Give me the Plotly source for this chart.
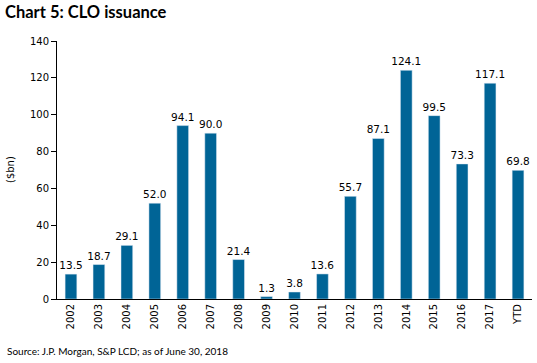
import plotly.graph_objects as go

categories = ["2002", "2003", "2004", "2005", "2006", "2007", "2008", "2009", "2010",
              "2011", "2012", "2013", "2014", "2015", "2016", "2017", "YTD"]
values = [13.5, 18.7, 29.1, 52.0, 94.1, 90.0, 21.4, 1.3, 3.8,
          13.6, 55.7, 87.1, 124.1, 99.5, 73.3, 117.1, 69.8]
y_ticks = [0, 20, 40, 60, 80, 100, 120, 140]

W, H = 537, 363
L, R, T, B = 57, 5, 41, 64
PW, PH = W - L - R, H - T - B

fig = go.Figure(go.Bar(
    x=categories, y=values,
    marker_color="#006496",
    text=[f"{v:.1f}" for v in values],
    textposition="outside",
    constraintext="none",
    textfont=dict(size=10.5, color="#000000", family="DejaVu Sans"),
    cliponaxis=False,
))

fig.update_layout(
    width=W, height=H,
    margin=dict(l=L, r=R, t=T, b=B),
    paper_bgcolor="white", plot_bgcolor="white",
    bargap=0.58,
    showlegend=False,
    font=dict(family="DejaVu Sans", size=10, color="#000000"),
    title=dict(text="<b>Chart 5: CLO issuance</b>", x=5 / W, xanchor="left",
               y=1 - 12 / H, yanchor="middle",
               font=dict(family="Lato", size=16.5, color="#000000")),
    xaxis=dict(type="category", tickangle=-90, showline=True, linecolor="#000000",
               linewidth=1, ticks="", showgrid=False,
               tickfont=dict(size=10, family="DejaVu Sans")),
    yaxis=dict(range=[0, 140], tickvals=y_ticks, showline=True, linecolor="#000000",
               linewidth=1, ticks="outside", ticklen=5, tickcolor="#000000",
               showgrid=False, zeroline=False,
               tickfont=dict(size=10, family="DejaVu Sans")),
    annotations=[
        dict(text="Source: J.P. Morgan, S&P LCD; as of June 30, 2018",
             xref="paper", yref="paper", x=-(L - 5) / PW, y=-(351 - (H - B)) / PH,
             xanchor="left", yanchor="middle", showarrow=False,
             font=dict(size=10, family="Lato")),
        dict(text="($bn)", textangle=-90,
             xref="paper", yref="paper", x=-(L - 10) / PW, y=(299 - 170) / PH,
             xanchor="center", yanchor="middle", showarrow=False,
             font=dict(size=10, family="DejaVu Sans")),
    ],
)

# remove the browser's default 8px body margin so the figure fills the window
fig.write_html("out.html", config={"displayModeBar": False},
               post_script="document.body.style.margin='0';")
